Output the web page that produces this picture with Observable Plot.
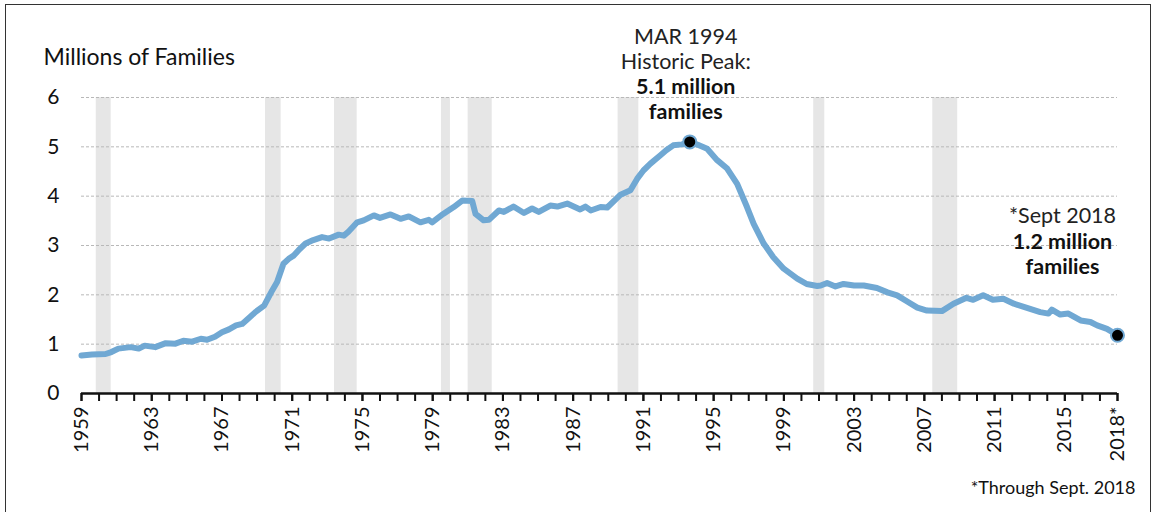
<!DOCTYPE html>
<html>
<head>
<meta charset="utf-8">
<script src="https://cdn.jsdelivr.net/npm/d3@7"></script>
<script src="https://cdn.jsdelivr.net/npm/@observablehq/plot@0.6"></script>
<style>
  html, body { margin: 0; padding: 0; background: #fff; }
  #wrap { position: relative; width: 1155px; height: 512px; overflow: hidden; }
  #frame { position: absolute; left: 5px; top: 4px; width: 1146px; height: 520px; border: 1.5px solid #333; box-sizing: border-box; }
  #chart { position: absolute; left: 0; top: 0; }
  #chart svg { overflow: visible; }
</style>
</head>
<body>
<div id="wrap"><div id="frame"></div><div id="chart"></div></div>
<script>
// Data (fractional years, millions of families)
const years = [1959.0,1959.6,1960.37,1960.7,1961.1,1961.8,1962.26,1962.6,1963.2,1963.8,1964.35,1964.8,1965.3,1965.8,1966.15,1966.6,1967.0,1967.4,1967.8,1968.15,1968.5,1968.9,1969.4,1969.86,1970.14,1970.5,1970.8,1971.1,1971.4,1971.76,1972.2,1972.7,1973.1,1973.65,1973.94,1974.2,1974.7,1975.07,1975.65,1976.0,1976.6,1977.17,1977.64,1978.3,1978.78,1978.97,1979.3,1979.6,1980.2,1980.68,1981.25,1981.44,1981.9,1982.2,1982.77,1983.05,1983.6,1984.2,1984.66,1985.04,1985.7,1986.1,1986.66,1987.4,1987.7,1988.0,1988.56,1988.94,1989.7,1990.26,1990.64,1991.0,1991.4,1991.97,1992.3,1992.7,1993.2,1993.64,1994.1,1994.63,1995.2,1995.77,1996.34,1996.9,1997.28,1997.85,1998.4,1998.99,1999.76,2000.3,2000.9,2001.1,2001.46,2001.94,2002.4,2003.0,2003.55,2004.3,2004.9,2005.45,2006.0,2006.6,2007.15,2008.0,2008.66,2009.4,2009.78,2010.35,2010.9,2011.5,2012.1,2012.8,2013.6,2014.07,2014.26,2014.74,2015.2,2015.9,2016.46,2016.84,2017.4,2018.0];
const families = [0.77,0.79,0.80,0.84,0.91,0.94,0.91,0.97,0.94,1.02,1.01,1.07,1.05,1.11,1.09,1.15,1.24,1.30,1.38,1.41,1.52,1.65,1.78,2.09,2.26,2.63,2.73,2.80,2.92,3.04,3.11,3.17,3.14,3.22,3.20,3.28,3.47,3.51,3.61,3.56,3.63,3.54,3.59,3.47,3.52,3.47,3.56,3.64,3.78,3.91,3.90,3.64,3.51,3.52,3.71,3.68,3.79,3.66,3.75,3.68,3.81,3.79,3.85,3.73,3.79,3.71,3.78,3.77,4.03,4.12,4.35,4.52,4.66,4.83,4.93,5.03,5.05,5.10,5.04,4.96,4.73,4.56,4.25,3.78,3.44,3.04,2.76,2.53,2.33,2.22,2.18,2.19,2.24,2.17,2.22,2.19,2.19,2.14,2.05,1.99,1.87,1.74,1.68,1.67,1.82,1.94,1.90,1.99,1.90,1.92,1.82,1.74,1.65,1.62,1.70,1.60,1.62,1.48,1.45,1.38,1.31,1.18];

// Recession shading (as placed in the reference)
const recessionStart = [1959.84, 1969.48, 1973.41, 1979.5, 1981.02, 1989.56, 2000.7, 2007.48];
const recessionEnd   = [1960.69, 1970.37, 1974.7, 1980.01, 1982.39, 1990.74, 2001.33, 2008.9];

// Axis ticks
const minorTickYears = d3.range(1959, 2019);
const labelTickYears = [1959,1963,1967,1971,1975,1979,1983,1987,1991,1995,1999,2003,2007,2011,2015,2018];
const yTicks = [0,1,2,3,4,5,6];
const gridTicks = [1,2,3,4,5,6];

// Annotations
const peakIndex = 77;            // MAR 1994
const lastIndex = years.length - 1;
const peakLines = ["MAR 1994", "Historic Peak:"];
const peakBold = ["5.1 million", "families"];
const lastLines = ["*Sept 2018"];
const lastBold = ["1.2 million", "families"];
const yTitle = "Millions of Families";
const footnote = "*Through Sept. 2018";

const data = years.map((x, i) => ({x, y: families[i]}));
const recessions = recessionStart.map((s, i) => ({start: s, end: recessionEnd[i]}));
const peak = data[peakIndex];
const last = data[lastIndex];

const FONT = "Lato, 'Open Sans', sans-serif";
const BLUE = "#70a8d3";
const ANN = 21.5;

const chart = Plot.plot({
  width: 1155,
  height: 512,
  marginLeft: 81,
  marginRight: 38,
  marginTop: 97,
  marginBottom: 119,
  style: {fontFamily: FONT, color: "#111", background: "transparent", overflow: "visible"},
  x: {domain: [1959, 2018]},
  y: {domain: [0, 6]},
  marks: [
    Plot.rect(recessions, {x1: "start", x2: "end", fill: "#e6e6e6"}),
    Plot.gridY(gridTicks, {stroke: "#b8b8b8", strokeOpacity: 1, strokeWidth: 1, strokeDasharray: "3,2"}),
    Plot.axisY({ticks: yTicks, tickFormat: d => String(d), tickSize: 0, tickPadding: 22, fontSize: 21, label: null, fill: "#111"}),
    Plot.axisX({ticks: minorTickYears, tickFormat: () => "", tickSize: 8, stroke: "#111", strokeWidth: 2, label: null}),
    Plot.axisX({ticks: labelTickYears, tickFormat: d => d === 2018 ? "2018*" : String(d),
      tickRotate: -90, tickSize: 8, tickPadding: 5, fontSize: 20, stroke: "#111", strokeWidth: 2, label: null, fill: "#111"}),
    Plot.ruleY([0], {stroke: "#111", strokeWidth: 2.5}),
    Plot.line(data, {x: "x", y: "y", stroke: BLUE, strokeWidth: 6, strokeLinejoin: "round", strokeLinecap: "round"}),
    Plot.dot([peak, last], {x: "x", y: "y", r: 6.5, fill: "#000", stroke: BLUE, strokeWidth: 2}),
    // Peak annotation
    Plot.text([peak], {x: "x", y: "y", text: () => peakLines[0], dx: -4, dy: -105, fontSize: ANN, fill: "#222"}),
    Plot.text([peak], {x: "x", y: "y", text: () => peakLines[1], dx: -4, dy: -80, fontSize: ANN, fill: "#222"}),
    Plot.text([peak], {x: "x", y: "y", text: () => peakBold[0], dx: -4, dy: -55, fontSize: ANN, fontWeight: "bold", fill: "#111"}),
    Plot.text([peak], {x: "x", y: "y", text: () => peakBold[1], dx: -4, dy: -30, fontSize: ANN, fontWeight: "bold", fill: "#111"}),
    // Last-value annotation
    Plot.text([last], {x: "x", y: "y", text: () => lastLines[0], dx: -55, dy: -119, fontSize: ANN, fill: "#222"}),
    Plot.text([last], {x: "x", y: "y", text: () => lastBold[0], dx: -55, dy: -93, fontSize: ANN, fontWeight: "bold", fill: "#111"}),
    Plot.text([last], {x: "x", y: "y", text: () => lastBold[1], dx: -55, dy: -68, fontSize: ANN, fontWeight: "bold", fill: "#111"}),
    // Axis title and footnote
    Plot.text([yTitle], {frameAnchor: "top-left", text: d => d, dx: -38, dy: -40, fontSize: 23, fill: "#111", textAnchor: "start", lineAnchor: "middle"}),
    Plot.text([footnote], {frameAnchor: "bottom-right", text: d => d, dx: 18, dy: 95, fontSize: 18, fill: "#111", textAnchor: "end", lineAnchor: "middle"})
  ]
});
document.getElementById("chart").appendChild(chart);
</script>
</body>
</html>
